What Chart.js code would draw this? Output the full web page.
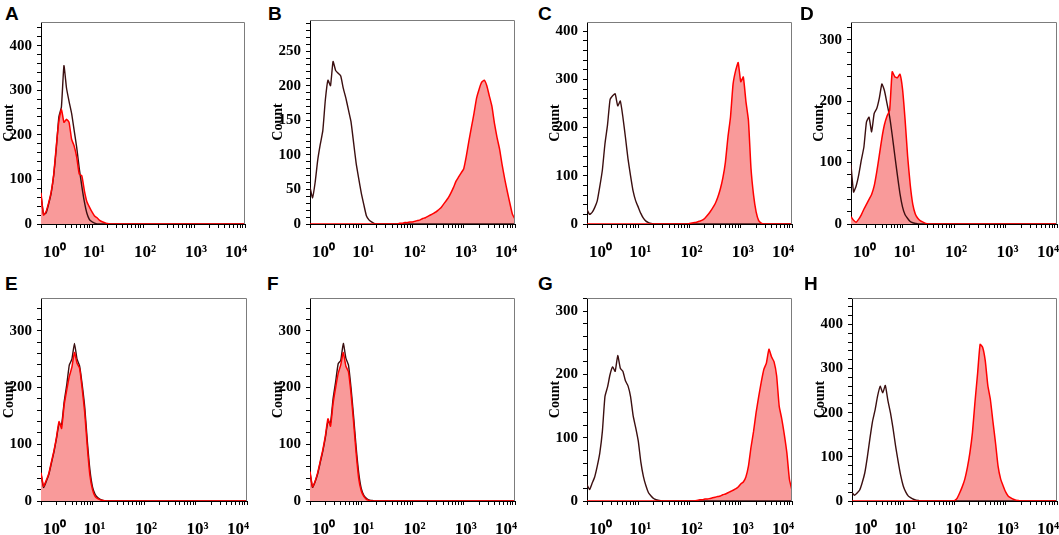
<!DOCTYPE html>
<html>
<head>
<meta charset="utf-8">
<title>Flow cytometry histograms</title>
<script src="https://cdn.jsdelivr.net/npm/chart.js@4.4.1/dist/chart.umd.min.js"></script>
<style>
  html, body { margin: 0; padding: 0; background: #fff; overflow: hidden; }
  body { position: relative; width: 1059px; height: 535px; }
  .panel-canvas { position: absolute; }
  .letter { position: absolute; font: bold 19px "Liberation Sans", Arial, sans-serif; line-height: 1; color: #000; }
</style>
</head>
<body>
<script>
// histogram bins: 0.05 decade wide, from 10^0 to 10^4 (81 bins)
const binDecadeStep = 0.05;
const xDecadeValues = [1, 10, 100, 1000, 10000];
const xTickLabels = ['10\u2070', '10\u00b9', '10\u00b2', '10\u00b3', '10\u2074'];
const yTitle = 'Count';

// counts per bin, control (dark line) and sample (red filled)
const aControl = [
  65, 22, 25, 45, 70, 110, 170, 240, 262, 355,
  305, 275, 248, 210, 172, 125, 85, 50, 24, 10,
  5, 2, 0, 0, 0, 0, 0, 0, 0, 0,
  0, 0, 0, 0, 0, 0, 0, 0, 0, 0,
  0, 0, 0, 0, 0, 0, 0, 0, 0, 0,
  0, 0, 0, 0, 0, 0, 0, 0, 0, 0,
  0, 0, 0, 0, 0, 0, 0, 0, 0, 0,
  0, 0, 0, 0, 0, 0, 0, 0, 0, 0,
  0
];
const aSample = [
  70, 20, 28, 48, 72, 112, 175, 230, 258, 228,
  235, 228, 190, 175, 150, 112, 108, 75, 50, 38,
  27, 18, 14, 8, 5, 3, 1, 0, 0, 0,
  0, 0, 0, 0, 0, 0, 0, 0, 0, 0,
  0, 0, 0, 0, 0, 0, 0, 0, 0, 0,
  0, 0, 0, 0, 0, 0, 0, 0, 0, 0,
  0, 0, 0, 0, 0, 0, 0, 0, 0, 0,
  0, 0, 0, 0, 0, 0, 0, 0, 0, 0,
  0
];
const bControl = [
  53, 38, 60, 92, 115, 135, 180, 208, 200, 235,
  222, 218, 214, 196, 182, 165, 148, 118, 88, 66,
  45, 28, 12, 6, 3, 1, 0, 0, 0, 0,
  0, 0, 0, 0, 0, 0, 0, 0, 0, 0,
  0, 0, 0, 0, 0, 0, 0, 0, 0, 0,
  0, 0, 0, 0, 0, 0, 0, 0, 0, 0,
  0, 0, 0, 0, 0, 0, 0, 0, 0, 0,
  0, 0, 0, 0, 0, 0, 0, 0, 0, 0,
  0
];
const bSample = [
  0, 0, 0, 0, 0, 0, 0, 0, 0, 0,
  0, 0, 0, 0, 0, 0, 0, 0, 0, 0,
  0, 0, 0, 0, 0, 0, 0, 0, 0, 0,
  0, 0, 0, 0, 0, 1, 1, 2, 2, 3,
  3, 4, 5, 6, 8, 9, 11, 13, 15, 17,
  20, 23, 28, 33, 38, 45, 53, 62, 68, 74,
  80, 98, 120, 140, 160, 182, 195, 205, 208, 200,
  185, 170, 145, 125, 108, 85, 65, 47, 30, 14,
  7
];
const cControl = [
  30, 20, 24, 34, 48, 78, 112, 166, 205, 258,
  266, 270, 245, 255, 222, 180, 135, 100, 68, 48,
  35, 22, 12, 6, 3, 1, 0, 0, 0, 0,
  0, 0, 0, 0, 0, 0, 0, 0, 0, 0,
  0, 0, 0, 0, 0, 0, 0, 0, 0, 0,
  0, 0, 0, 0, 0, 0, 0, 0, 0, 0,
  0, 0, 0, 0, 0, 0, 0, 0, 0, 0,
  0, 0, 0, 0, 0, 0, 0, 0, 0, 0,
  0
];
const cSample = [
  0, 0, 0, 0, 0, 0, 0, 0, 0, 0,
  0, 0, 0, 0, 0, 0, 0, 0, 0, 0,
  0, 0, 0, 0, 0, 0, 0, 0, 0, 0,
  0, 0, 0, 0, 0, 0, 0, 0, 0, 0,
  1, 2, 3, 4, 6, 8, 12, 18, 25, 33,
  42, 55, 72, 95, 128, 180, 222, 290, 318, 335,
  295, 305, 255, 215, 115, 60, 25, 7, 2, 0,
  0, 0, 0, 0, 0, 0, 0, 0, 0, 0,
  0
];
const dControl = [
  96, 52, 62, 80, 104, 125, 166, 174, 150, 180,
  188, 205, 228, 217, 196, 175, 145, 112, 80, 50,
  28, 15, 9, 4, 2, 1, 0, 0, 0, 0,
  0, 0, 0, 0, 0, 0, 0, 0, 0, 0,
  0, 0, 0, 0, 0, 0, 0, 0, 0, 0,
  0, 0, 0, 0, 0, 0, 0, 0, 0, 0,
  0, 0, 0, 0, 0, 0, 0, 0, 0, 0,
  0, 0, 0, 0, 0, 0, 0, 0, 0, 0,
  0
];
const dSample = [
  12, 6, 3, 8, 15, 24, 32, 40, 48, 62,
  85, 112, 140, 162, 176, 185, 248, 240, 238, 244,
  220, 170, 110, 64, 32, 16, 9, 5, 3, 1,
  0, 0, 0, 0, 0, 0, 0, 0, 0, 0,
  0, 0, 0, 0, 0, 0, 0, 0, 0, 0,
  0, 0, 0, 0, 0, 0, 0, 0, 0, 0,
  0, 0, 0, 0, 0, 0, 0, 0, 0, 0,
  0, 0, 0, 0, 0, 0, 0, 0, 0, 0,
  0
];
const eControl = [
  48, 24, 34, 46, 66, 86, 110, 136, 135, 175,
  205, 240, 250, 278, 250, 238, 205, 165, 105, 55,
  25, 12, 6, 3, 1, 0, 0, 0, 0, 0,
  0, 0, 0, 0, 0, 0, 0, 0, 0, 0,
  0, 0, 0, 0, 0, 0, 0, 0, 0, 0,
  0, 0, 0, 0, 0, 0, 0, 0, 0, 0,
  0, 0, 0, 0, 0, 0, 0, 0, 0, 0,
  0, 0, 0, 0, 0, 0, 0, 0, 0, 0,
  0
];
const eSample = [
  50, 26, 36, 48, 68, 88, 112, 140, 128, 170,
  196, 220, 236, 262, 243, 234, 198, 155, 95, 45,
  20, 8, 4, 2, 1, 0, 0, 0, 0, 0,
  0, 0, 0, 0, 0, 0, 0, 0, 0, 0,
  0, 0, 0, 0, 0, 0, 0, 0, 0, 0,
  0, 0, 0, 0, 0, 0, 0, 0, 0, 0,
  0, 0, 0, 0, 0, 0, 0, 0, 0, 0,
  0, 0, 0, 0, 0, 0, 0, 0, 0, 0,
  0
];
const fControl = [
  50, 24, 34, 48, 68, 88, 112, 140, 138, 180,
  210, 242, 248, 278, 252, 240, 200, 150, 95, 50,
  22, 10, 5, 2, 1, 0, 0, 0, 0, 0,
  0, 0, 0, 0, 0, 0, 0, 0, 0, 0,
  0, 0, 0, 0, 0, 0, 0, 0, 0, 0,
  0, 0, 0, 0, 0, 0, 0, 0, 0, 0,
  0, 0, 0, 0, 0, 0, 0, 0, 0, 0,
  0, 0, 0, 0, 0, 0, 0, 0, 0, 0,
  0
];
const fSample = [
  52, 25, 35, 50, 70, 90, 115, 145, 132, 172,
  200, 225, 240, 262, 238, 228, 190, 140, 85, 40,
  18, 8, 3, 1, 0, 0, 0, 0, 0, 0,
  0, 0, 0, 0, 0, 0, 0, 0, 0, 0,
  0, 0, 0, 0, 0, 0, 0, 0, 0, 0,
  0, 0, 0, 0, 0, 0, 0, 0, 0, 0,
  0, 0, 0, 0, 0, 0, 0, 0, 0, 0,
  0, 0, 0, 0, 0, 0, 0, 0, 0, 0,
  0
];
const gControl = [
  26, 18, 28, 38, 55, 76, 110, 165, 180, 200,
  212, 205, 230, 210, 205, 190, 182, 165, 135, 116,
  95, 62, 39, 24, 13, 8, 4, 2, 1, 0,
  0, 0, 0, 0, 0, 0, 0, 0, 0, 0,
  0, 0, 0, 0, 0, 0, 0, 0, 0, 0,
  0, 0, 0, 0, 0, 0, 0, 0, 0, 0,
  0, 0, 0, 0, 0, 0, 0, 0, 0, 0,
  0, 0, 0, 0, 0, 0, 0, 0, 0, 0,
  0
];
const gSample = [
  0, 0, 0, 0, 0, 0, 0, 0, 0, 0,
  0, 0, 0, 0, 0, 0, 0, 0, 0, 0,
  0, 0, 0, 0, 0, 0, 0, 0, 0, 0,
  0, 0, 0, 0, 0, 0, 0, 0, 0, 0,
  0, 0, 0, 1, 2, 2, 3, 3, 4, 5,
  6, 7, 8, 10, 11, 13, 15, 17, 19, 22,
  27, 30, 38, 55, 85, 110, 140, 165, 188, 208,
  218, 240, 228, 220, 198, 150, 130, 105, 76, 34,
  17
];
const hControl = [
  19, 13, 18, 25, 42, 64, 100, 142, 180, 206,
  238, 260, 245, 262, 228, 200, 165, 125, 90, 58,
  34, 20, 11, 7, 4, 2, 1, 0, 0, 0,
  0, 0, 0, 0, 0, 0, 0, 0, 0, 0,
  0, 0, 0, 0, 0, 0, 0, 0, 0, 0,
  0, 0, 0, 0, 0, 0, 0, 0, 0, 0,
  0, 0, 0, 0, 0, 0, 0, 0, 0, 0,
  0, 0, 0, 0, 0, 0, 0, 0, 0, 0,
  0
];
const hSample = [
  0, 0, 0, 0, 0, 0, 0, 0, 0, 0,
  0, 0, 0, 0, 0, 0, 0, 0, 0, 0,
  0, 0, 0, 0, 0, 0, 0, 0, 0, 0,
  0, 0, 0, 0, 0, 0, 0, 0, 0, 0,
  1, 6, 18, 32, 49, 75, 109, 155, 225, 288,
  355, 348, 318, 262, 230, 180, 132, 79, 50, 34,
  20, 11, 7, 4, 2, 1, 0, 0, 0, 0,
  0, 0, 0, 0, 0, 0, 0, 0, 0, 0,
  0
];

// panel layout: plot box (left, top, right, bottom) in page pixels + y axis range
const panels = [
  { letter: 'A', control: aControl, sample: aSample, box: [41, 20, 245, 224], yMax: 453, yLabelStep: 100, yMinorStep: 20, letterAt: [5, 4] },
  { letter: 'B', control: bControl, sample: bSample, box: [310, 18, 515, 224], yMax: 295, yLabelStep: 50, yMinorStep: 10, letterAt: [268, 4] },
  { letter: 'C', control: cControl, sample: cSample, box: [587, 20, 792, 224], yMax: 419, yLabelStep: 100, yMinorStep: 20, letterAt: [538, 4] },
  { letter: 'D', control: dControl, sample: dSample, box: [851, 20, 1057, 224], yMax: 329, yLabelStep: 100, yMinorStep: 20, letterAt: [800, 4] },
  { letter: 'E', control: eControl, sample: eSample, box: [41, 296, 247, 501], yMax: 358, yLabelStep: 100, yMinorStep: 20, letterAt: [5, 274] },
  { letter: 'F', control: fControl, sample: fSample, box: [310, 296, 515, 501], yMax: 358, yLabelStep: 100, yMinorStep: 20, letterAt: [267, 274] },
  { letter: 'G', control: gControl, sample: gSample, box: [587, 296, 792, 501], yMax: 321, yLabelStep: 100, yMinorStep: 20, letterAt: [538, 274] },
  { letter: 'H', control: hControl, sample: hSample, box: [852, 296, 1057, 501], yMax: 460, yLabelStep: 100, yMinorStep: 20, letterAt: [804, 274] }
];

const yAxisWidth = 41;
const xAxisHeight = 44;
const padTop = 12;
const padRight = 18;
const serif = '"Liberation Serif", "Times New Roman", serif';

const frameLines = {
  id: 'frameLines',
  afterDatasetsDraw(chart) {
    const { ctx, chartArea: a } = chart;
    ctx.save();
    ctx.strokeStyle = '#7c7c7c';
    ctx.lineWidth = 1;
    ctx.beginPath();
    ctx.moveTo(a.left, a.top + 0.5);
    ctx.lineTo(a.right - 0.5, a.top + 0.5);
    ctx.lineTo(a.right - 0.5, a.bottom);
    ctx.stroke();
    ctx.restore();
  }
};

const toPoints = counts => counts.map((c, i) => ({ x: Math.pow(10, i * binDecadeStep), y: c }));

panels.forEach(p => {
  const [left, top, right, bottom] = p.box;

  const letter = document.createElement('div');
  letter.className = 'letter';
  letter.textContent = p.letter;
  letter.style.left = p.letterAt[0] + 'px';
  letter.style.top = p.letterAt[1] + 'px';
  document.body.appendChild(letter);

  const canvas = document.createElement('canvas');
  canvas.className = 'panel-canvas';
  const w = right - left + yAxisWidth + padRight;
  const h = bottom - top + padTop + xAxisHeight;
  canvas.width = w;
  canvas.height = h;
  canvas.style.width = w + 'px';
  canvas.style.height = h + 'px';
  canvas.style.left = (left - yAxisWidth) + 'px';
  canvas.style.top = (top - padTop) + 'px';
  document.body.appendChild(canvas);

  new Chart(canvas.getContext('2d'), {
    type: 'line',
    data: {
      datasets: [
        {
          data: toPoints(p.sample),
          borderColor: '#ff0000',
          borderWidth: 1.5,
          pointRadius: 0,
          tension: 0.15,
          fill: false,
          order: 1
        },
        {
          data: toPoints(p.control),
          borderColor: '#3b0f10',
          borderWidth: 1.4,
          pointRadius: 0,
          tension: 0.15,
          fill: false,
          order: 2
        },
        {
          data: toPoints(p.sample),
          borderColor: 'rgba(0,0,0,0)',
          borderWidth: 0,
          backgroundColor: '#f99a9a',
          pointRadius: 0,
          tension: 0.15,
          fill: 'origin',
          order: 3
        }
      ]
    },
    options: {
      responsive: false,
      animation: false,
      layout: { padding: { left: 0, top: padTop, right: padRight, bottom: 0 } },
      plugins: { legend: { display: false }, tooltip: { enabled: false } },
      scales: {
        x: {
          type: 'logarithmic',
          min: 1,
          max: 10000,
          afterBuildTicks: scale => {
            const ticks = [];
            xDecadeValues.forEach((d, k) => {
              if (k === xDecadeValues.length - 1) {
                ticks.push({ value: d });
                return;
              }
              for (let m = 1; m <= 9; m++) ticks.push({ value: d * m });
            });
            scale.ticks = ticks;
          },
          afterFit: scale => { scale.height = xAxisHeight; },
          grid: { display: true, drawOnChartArea: false, drawTicks: true, tickLength: 4, color: '#000' },
          border: { display: true, color: '#000', width: 1 },
          ticks: {
            autoSkip: false,
            maxRotation: 0,
            minRotation: 0,
            align: 'inner',
            padding: 14,
            labelOffset: 2,
            color: '#000',
            font: { family: serif, size: 17, weight: 'bold' },
            callback: value => {
              const k = xDecadeValues.indexOf(value);
              return k >= 0 ? xTickLabels[k] : '';
            }
          }
        },
        y: {
          type: 'linear',
          min: 0,
          max: p.yMax,
          afterBuildTicks: scale => {
            const ticks = [];
            for (let v = 0; v <= p.yMax; v += p.yMinorStep) ticks.push({ value: v });
            scale.ticks = ticks;
          },
          afterFit: scale => { scale.width = yAxisWidth; },
          grid: { display: true, drawOnChartArea: false, drawTicks: true, tickLength: 4, color: '#000' },
          border: { display: true, color: '#000', width: 1 },
          title: {
            display: true,
            text: yTitle,
            color: '#000',
            padding: { top: 1, bottom: 0 },
            font: { family: serif, size: 14, weight: 'bold' }
          },
          ticks: {
            autoSkip: false,
            padding: 5,
            color: '#000',
            font: { family: serif, size: 15, weight: 'bold' },
            callback: value => (value % p.yLabelStep === 0 ? String(value) : '')
          }
        }
      }
    },
    plugins: [frameLines]
  });
});
</script>
</body>
</html>
